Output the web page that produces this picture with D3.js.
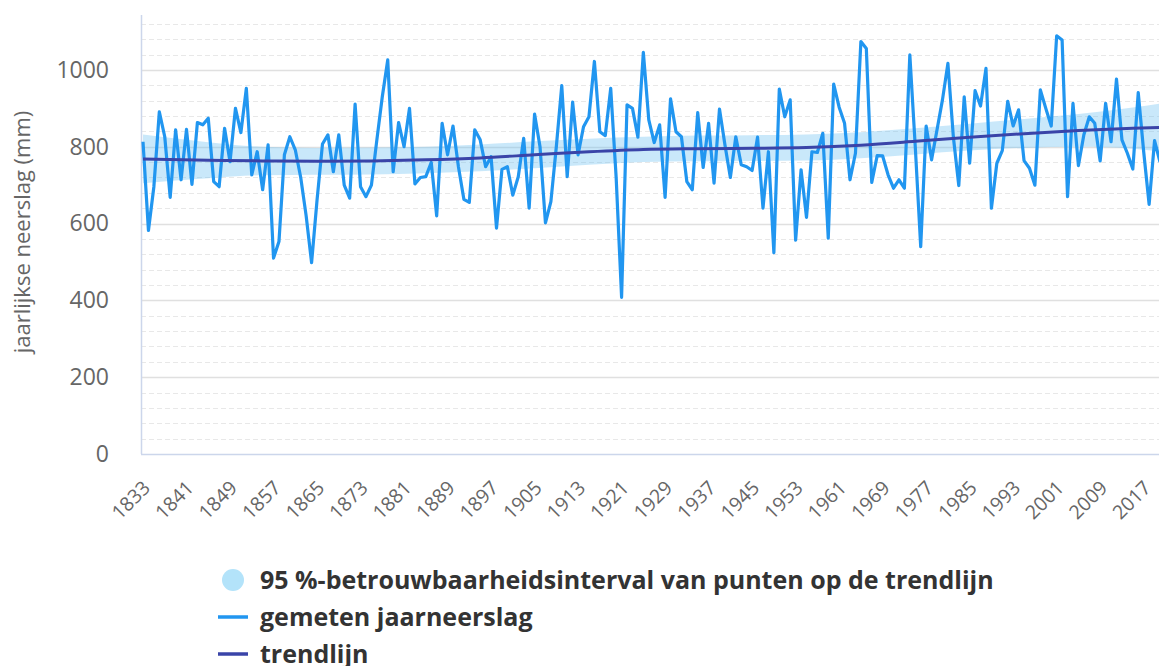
<!DOCTYPE html>
<html>
<head>
<meta charset="utf-8">
<script src="https://cdn.jsdelivr.net/npm/d3@7"></script>
<style>
  body { margin: 0; background: #fff; }
  svg { display: block; }
  .tick-y text, .tick-x text, .axis-title { fill: #666; font-family: "Open Sans", sans-serif; }
  .legend text { fill: #333; font-family: "Open Sans", sans-serif; font-weight: 700; }
</style>
</head>
<body>
<div id="chart"></div>
<script>
// jaarlijkse neerslag, gemeten vanaf 1833
var firstYear = 1833

var rainfall = [
  813, 582, 696, 891, 826, 668, 844, 714,             // 1833-1840
  845, 702, 863, 857, 874, 709, 696, 848, 761, 900,   // 1841-1850
  837, 952, 727, 787, 688, 805, 510, 553, 779, 826,   // 1851-1860
  792, 720, 620, 498, 661, 807, 831, 735, 831, 700,   // 1861-1870
  666, 911, 696, 670, 700, 818, 930, 1026, 735, 863,  // 1871-1880
  800, 900, 703, 720, 722, 759, 620, 861, 779, 854,   // 1881-1890
  748, 663, 655, 844, 818, 748, 774, 588, 741, 748,   // 1891-1900
  674, 722, 822, 640, 885, 800, 602, 657, 800, 959,   // 1901-1910
  722, 916, 779, 852, 878, 1022, 839, 829, 952, 720,  // 1911-1920
  408, 909, 900, 825, 1046, 870, 811, 857, 668, 925,  // 1921-1930
  839, 826, 709, 688, 889, 746, 861, 705, 898, 805,   // 1931-1940
  720, 826, 753, 748, 738, 825, 640, 787, 524, 950,   // 1941-1950
  878, 922, 557, 740, 616, 787, 785, 835, 562, 963,   // 1951-1960
  903, 861, 714, 783, 1074, 1056, 707, 777, 776, 727, // 1961-1970
  692, 714, 692, 1039, 800, 540, 854, 766, 844, 922,  // 1971-1980
  1017, 826, 699, 930, 757, 946, 906, 1004, 640, 757, // 1981-1990
  790, 918, 854, 896, 764, 744, 700, 948, 900, 854,   // 1991-2000
  1089, 1078, 670, 913, 751, 831, 878, 861, 763, 913, // 2001-2010
  813, 976, 818, 783, 742, 941, 787, 650, 816, 760    // 2011-2020
]

var trendYears = [1833, 1845, 1855, 1865, 1875, 1885, 1895, 1905, 1915, 1925, 1935, 1945, 1955, 1965, 1975, 1985, 1995, 2005, 2015, 2020]
var trendValues = [768, 765, 763, 762, 763, 766, 771, 779, 787, 793, 795, 796, 798, 804, 814, 825, 834, 842, 848, 850]
var bandUpper = [832, 812, 800, 797, 798, 800, 806, 814, 821, 826, 829, 830, 832, 838, 848, 860, 872, 885, 902, 912]
var bandLower = [705, 718, 726, 727, 728, 731, 736, 744, 753, 760, 762, 763, 764, 770, 780, 790, 797, 800, 795, 788]

var xTickYears = [1833, 1841, 1849, 1857, 1865, 1873, 1881, 1889, 1897, 1905, 1913, 1921, 1929, 1937, 1945, 1953, 1961, 1969, 1977, 1985, 1993, 2001, 2009, 2017]
var yTickValues = [0, 200, 400, 600, 800, 1000]
var yMinorValues = [40, 80, 120, 160, 240, 280, 320, 360, 440, 480, 520, 560, 640, 680, 720, 760, 840, 880, 920, 960, 1040, 1080, 1120]

var legendItems = [
  {'label': '95 %-betrouwbaarheidsinterval van punten op de trendlijn', 'type': 'band'},
  {'label': 'gemeten jaarneerslag', 'type': 'data'},
  {'label': 'trendlijn', 'type': 'trend'}
]

var colors = {
  'data': '#2196f0',
  'trend': '#3a44a8',
  'band': 'rgba(100,190,240,0.35)',
  'legendBand': '#b3e3fa'
}

var init = function(domelement) {

  var settings = {
    'width': 1159,
    'height': 666,
    'plotLeft': 141,
    'plotTop': 15,
    'plotBottom': 454,
    'plotRight': 1159
  }

  var svg = d3.select(domelement).append('svg')
    .attr('width', settings.width)
    .attr('height', settings.height)

  var x = d3.scaleLinear()
    .domain([firstYear, firstYear + rainfall.length - 1])
    .range([143, 1160])

  var y = d3.scaleLinear()
    .domain([0, 1143])
    .range([settings.plotBottom, settings.plotTop])

  var series = rainfall.map(function(v, i) {
    return {'year': firstYear + i, 'value': v}
  })

  var trend = trendYears.map(function(yr, i) {
    return {'year': yr, 'value': trendValues[i], 'hi': bandUpper[i], 'lo': bandLower[i]}
  })

  svg.append('defs').append('clipPath').attr('id', 'plotclip')
    .append('rect')
    .attr('x', settings.plotLeft)
    .attr('y', 0)
    .attr('width', settings.plotRight - settings.plotLeft)
    .attr('height', settings.plotBottom + 2)

  // grid
  var grid = svg.append('g').attr('class', 'grid')
  grid.selectAll('line.minor')
    .data(yMinorValues)
    .enter().append('line')
    .attr('class', 'minor')
    .attr('x1', settings.plotLeft).attr('x2', settings.plotRight)
    .attr('y1', function(d) { return Math.round(y(d)) + 0.5 })
    .attr('y2', function(d) { return Math.round(y(d)) + 0.5 })
    .attr('stroke', '#e8e8e8')
    .attr('stroke-width', 1)
    .attr('stroke-dasharray', '5,3')

  grid.selectAll('line.major')
    .data(yTickValues.filter(function(d) { return d > 0 }))
    .enter().append('line')
    .attr('class', 'major')
    .attr('x1', settings.plotLeft).attr('x2', settings.plotRight)
    .attr('y1', function(d) { return Math.round(y(d)) + 0.5 })
    .attr('y2', function(d) { return Math.round(y(d)) + 0.5 })
    .attr('stroke', '#e0e0e0')
    .attr('stroke-width', 1.5)

  // axis lines
  svg.append('line')
    .attr('x1', settings.plotLeft + 0.5).attr('x2', settings.plotLeft + 0.5)
    .attr('y1', settings.plotTop).attr('y2', settings.plotBottom)
    .attr('stroke', '#ccd6eb').attr('stroke-width', 1.5)
  svg.append('line')
    .attr('x1', settings.plotLeft).attr('x2', settings.plotRight)
    .attr('y1', settings.plotBottom + 0.5).attr('y2', settings.plotBottom + 0.5)
    .attr('stroke', '#ccd6eb').attr('stroke-width', 1.5)

  var marks = svg.append('g').attr('clip-path', 'url(#plotclip)')

  var area = d3.area()
    .x(function(d) { return x(d.year) })
    .y0(function(d) { return y(d.lo) })
    .y1(function(d) { return y(d.hi) })
    .curve(d3.curveMonotoneX)

  marks.append('path')
    .datum(trend)
    .attr('d', area)
    .attr('fill', colors.band)

  var line = d3.line()
    .x(function(d) { return x(d.year) })
    .y(function(d) { return y(d.value) })

  marks.append('path')
    .datum(series)
    .attr('d', line)
    .attr('fill', 'none')
    .attr('stroke', colors.data)
    .attr('stroke-width', 3.2)
    .attr('stroke-linejoin', 'round')

  marks.append('path')
    .datum(trend)
    .attr('d', line.curve(d3.curveMonotoneX))
    .attr('fill', 'none')
    .attr('stroke', colors.trend)
    .attr('stroke-width', 3)

  // y axis labels
  var yAxis = d3.axisLeft(y)
    .tickValues(yTickValues)
    .tickFormat(d3.format('d'))
    .tickSize(0)
    .tickPadding(0)
  var yg = svg.append('g')
    .attr('class', 'tick-y')
    .attr('transform', 'translate(109,0)')
    .call(yAxis)
  yg.select('.domain').remove()
  yg.selectAll('text')
    .attr('font-size', 23)
    .attr('fill', '#666')
    .style('font-family', '"Open Sans", sans-serif')

  svg.append('text')
    .attr('class', 'axis-title')
    .attr('transform', 'translate(30,232) rotate(-90)')
    .attr('text-anchor', 'middle')
    .attr('font-size', 22)
    .attr('fill', '#666')
    .text('jaarlijkse neerslag (mm)')

  // x axis labels
  var xAxis = d3.axisBottom(x)
    .tickValues(xTickYears)
    .tickFormat(function(d) { return String(d) })
    .tickSize(0)
    .tickPadding(0)
  var xg = svg.append('g')
    .attr('class', 'tick-x')
    .attr('transform', 'translate(0,' + settings.plotBottom + ')')
    .call(xAxis)
  xg.select('.domain').remove()
  xg.selectAll('text')
    .attr('font-size', 19.5)
    .attr('fill', '#666')
    .style('font-family', '"Open Sans", sans-serif')
    .attr('text-anchor', 'end')
    .attr('dy', null)
    .attr('y', 0)
    .attr('transform', 'translate(8,35) rotate(-45)')

  // legend
  var legend = svg.append('g').attr('class', 'legend')
  var items = legend.selectAll('g')
    .data(legendItems)
    .enter().append('g')
    .attr('transform', function(d, i) { return 'translate(0,' + (580 + i * 37) + ')' })

  items.each(function(d) {
    var g = d3.select(this)
    if (d.type === 'band') {
      g.append('circle').attr('cx', 233).attr('cy', 0).attr('r', 11).attr('fill', colors.legendBand)
    } else {
      g.append('line')
        .attr('x1', 218).attr('x2', 248)
        .attr('y1', 0).attr('y2', 0)
        .attr('stroke', colors[d.type])
        .attr('stroke-width', 3.5)
    }
  })

  items.append('text')
    .attr('x', 260)
    .attr('y', 0)
    .attr('dy', '0.35em')
    .attr('font-size', 25)
    .text(function(d) { return d.label })
}

init('#chart')
</script>
</body>
</html>
